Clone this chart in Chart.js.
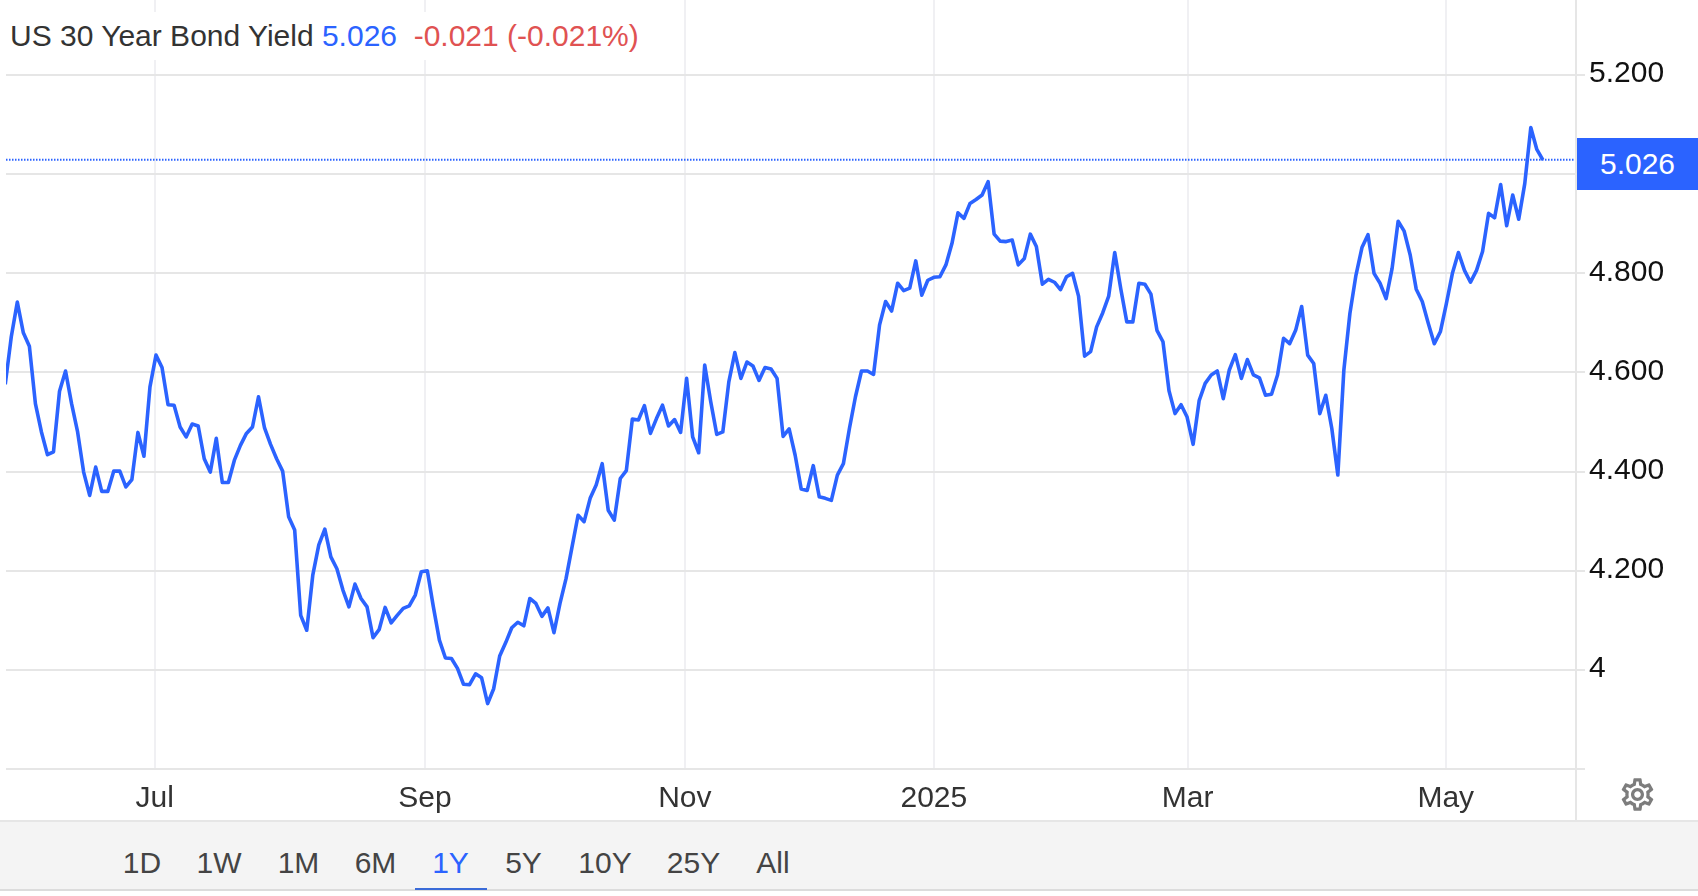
<!DOCTYPE html>
<html>
<head>
<meta charset="utf-8">
<title>US 30 Year Bond Yield</title>
<script src="https://cdn.jsdelivr.net/npm/chart.js@4"></script>
<style>
html,body{margin:0;padding:0;background:#fff;width:1698px;height:896px;overflow:hidden;font-family:"Liberation Sans",Arial,sans-serif}
#wrap{position:relative;width:1698px;height:896px}
canvas{position:absolute;left:0;top:0}
.abs{position:absolute}
#title{left:6px;top:12px;width:640px;height:48px;box-sizing:border-box;padding-left:4px;background:#fff;font-size:30px;line-height:48px;white-space:pre;color:#333}
#axisline{left:1575px;top:0;width:2px;height:820px;background:#e6e6e6}
#pricebox{left:1577px;top:138px;width:121px;height:52px;background:#2b63ff;color:#fff;font-size:30px;line-height:52px;text-align:center}
#bar{left:0;top:820px;width:1698px;height:71px;background:#f4f4f4;border-top:2px solid #e6e6e6;border-bottom:2px solid #dcdcdc;box-sizing:border-box}
.rng{position:absolute;top:820px;height:71px;line-height:85px;font-size:30px;color:#444;transform:translateX(-50%)}
.rng.on{color:#2b63ff}
#under{left:415px;top:888px;width:72px;height:2px;background:#3a6bd8}
#gear{left:1618px;top:775px;width:39px;height:39px}
</style>
</head>
<body>
<div id="wrap">
<canvas id="c" width="1698" height="896"></canvas>
<div class="abs" id="title"></div>
<div class="abs" id="axisline"></div>
<div class="abs" id="pricebox"></div>
<div class="abs" id="bar"></div>
<div class="abs" id="under"></div>
<svg class="abs" id="gear" viewBox="0 0 24 24"><path fill="#7d7d7d" d="M19.43 12.98c.04-.32.07-.64.07-.98 0-.34-.03-.66-.07-.98l2.11-1.65c.19-.15.24-.42.12-.64l-2-3.46c-.09-.16-.26-.25-.44-.25-.06 0-.12.01-.17.03l-2.49 1c-.52-.4-1.08-.73-1.69-.98l-.38-2.65C14.46 2.18 14.25 2 14 2h-4c-.25 0-.46.18-.49.42l-.38 2.65c-.61.25-1.17.59-1.69.98l-2.49-1c-.06-.02-.12-.03-.18-.03-.17 0-.34.09-.43.25l-2 3.46c-.13.22-.07.49.12.64l2.11 1.65c-.04.32-.07.65-.07.98 0 .33.03.66.07.98l-2.11 1.65c-.19.15-.24.42-.12.64l2 3.46c.09.16.26.25.44.25.06 0 .12-.01.17-.03l2.49-1c.52.4 1.08.73 1.69.98l.38 2.65c.03.24.24.42.49.42h4c.25 0 .46-.18.49-.42l.38-2.65c.61-.25 1.17-.59 1.69-.98l2.49 1c.06.02.12.03.18.03.17 0 .34-.09.43-.25l2-3.46c.12-.22.07-.49-.12-.64l-2.11-1.65zm-1.98-1.71c.04.31.05.52.05.73 0 .21-.02.43-.05.73l-.14 1.13.89.7 1.08.84-.7 1.21-1.27-.51-1.04-.42-.9.68c-.43.32-.84.56-1.25.73l-1.06.43-.16 1.13-.2 1.35h-1.4l-.19-1.35-.16-1.13-1.06-.43c-.43-.18-.83-.41-1.23-.71l-.91-.7-1.06.43-1.27.51-.7-1.21 1.08-.84.89-.7-.14-1.13c-.03-.31-.05-.54-.05-.74s.02-.43.05-.73l.14-1.13-.89-.7-1.08-.84.7-1.21 1.27.51 1.04.42.9-.68c.43-.32.84-.56 1.25-.73l1.06-.43.16-1.13.2-1.35h1.39l.19 1.35.16 1.13 1.06.43c.43.18.83.41 1.23.71l.91.7 1.06-.43 1.27-.51.7 1.21-1.07.85-.89.7.14 1.13zM12 8c-2.21 0-4 1.79-4 4s1.79 4 4 4 4-1.79 4-4-1.79-4-4-4zm0 6c-1.1 0-2-.9-2-2s.9-2 2-2 2 .9 2 2-.9 2-2 2z"/></svg>
</div>
<script>
const seriesName = "US 30 Year Bond Yield";
const lastText = "5.026";
const changeText = "-0.021 (-0.021%)";
const rangeLabels = ["1D","1W","1M","6M","1Y","5Y","10Y","25Y","All"];
const activeRange = "1Y";
const rangeCenters = [142,219,298.5,375.5,450.5,523.5,605,693.5,773];

const monthLabels = ["Jul","Sep","Nov","2025","Mar","May"];
const monthIndex = [24.8,69.6,112.7,154,196.1,238.9];
const yTickValues = [3.8,4,4.2,4.4,4.6,4.8,5,5.2];
const yTickLabels = ["","4","4.200","4.400","4.600","4.800","","5.200"];

const yields = [
4.576,4.672,4.742,4.680,4.653,4.537,4.480,4.434,4.440,4.562,
4.603,4.537,4.480,4.399,4.352,4.409,4.360,4.360,4.401,4.401,
4.369,4.384,4.479,4.431,4.571,4.635,4.610,4.535,4.534,4.490,
4.470,4.496,4.492,4.426,4.399,4.467,4.378,4.378,4.423,4.453,
4.477,4.490,4.551,4.488,4.455,4.426,4.401,4.309,4.282,4.110,
4.080,4.191,4.252,4.284,4.228,4.204,4.161,4.127,4.173,4.144,
4.127,4.065,4.081,4.126,4.095,4.110,4.124,4.129,4.151,4.198,
4.200,4.127,4.060,4.024,4.023,4.003,3.971,3.970,3.992,3.984,
3.932,3.962,4.028,4.055,4.085,4.096,4.089,4.144,4.134,4.108,
4.125,4.075,4.134,4.184,4.248,4.312,4.299,4.346,4.373,4.416,
4.322,4.302,4.386,4.402,4.506,4.504,4.533,4.477,4.507,4.534,
4.492,4.505,4.479,4.588,4.470,4.438,4.615,4.541,4.475,4.480,
4.581,4.640,4.588,4.621,4.613,4.584,4.610,4.607,4.588,4.471,
4.486,4.433,4.365,4.362,4.412,4.349,4.346,4.342,4.393,4.416,
4.487,4.551,4.603,4.603,4.596,4.696,4.743,4.724,4.780,4.765,
4.770,4.825,4.756,4.786,4.792,4.793,4.817,4.860,4.922,4.911,
4.941,4.949,4.958,4.985,4.879,4.865,4.864,4.867,4.817,4.830,
4.879,4.854,4.778,4.788,4.782,4.767,4.793,4.800,4.754,4.633,
4.642,4.692,4.720,4.754,4.842,4.769,4.702,4.702,4.780,4.778,
4.758,4.685,4.662,4.563,4.517,4.535,4.510,4.455,4.543,4.578,
4.595,4.603,4.547,4.605,4.636,4.588,4.626,4.595,4.589,4.554,
4.556,4.595,4.669,4.658,4.685,4.733,4.635,4.618,4.517,4.554,
4.487,4.393,4.605,4.719,4.796,4.852,4.878,4.800,4.780,4.749,
4.810,4.905,4.885,4.837,4.768,4.743,4.699,4.658,4.682,4.739,
4.800,4.842,4.806,4.782,4.806,4.844,4.921,4.912,4.979,4.896,
4.958,4.909,4.981,5.094,5.050,5.029
];
const lastLevel = 5.029;

const BLUE = "#2b63ff";

document.getElementById("title").innerHTML =
  seriesName + ' <span style="color:'+BLUE+'">' + lastText + '</span>  <span style="color:#e05252">' + changeText + '</span>';
document.getElementById("pricebox").textContent = lastText;
const wrap = document.getElementById("wrap");
rangeLabels.forEach((t,i)=>{
  const d = document.createElement("div");
  d.className = "rng" + (t===activeRange?" on":"");
  d.style.left = rangeCenters[i]+"px";
  d.textContent = t;
  wrap.appendChild(d);
});

const X_MIN = 0.124, X_MAX = 260;

new Chart(document.getElementById("c"), {
  type: "line",
  data: {
    datasets: [
      {
        label: seriesName,
        data: yields.map((y,i)=>({x:i,y})),
        borderColor: BLUE,
        borderWidth: 3.6,
        borderJoinStyle: "round",
        pointRadius: 0,
        tension: 0,
        clip: 0,
        order: 1
      },
      {
        label: "last",
        data: [{x:X_MIN,y:lastLevel},{x:X_MAX+0.5,y:lastLevel}],
        borderColor: BLUE,
        borderWidth: 2,
        borderDash: [1.5,1.5],
        pointRadius: 0,
        tension: 0,
        clip: {left:0,top:0,right:3,bottom:0},
        order: 2
      }
    ]
  },
  options: {
    responsive: false,
    animation: false,
    devicePixelRatio: 1,
    layout: { autoPadding: false, padding: { left: 6, top: 0, right: 0, bottom: 0 } },
    plugins: { legend: { display: false }, tooltip: { enabled: false }, title: { display: false } },
    scales: {
      x: {
        type: "linear",
        min: X_MIN,
        max: X_MAX,
        afterBuildTicks: s => { s.ticks = monthIndex.map(v=>({value:v})); },
        afterFit: s => { s.height = 127; s.paddingLeft = 0; s.paddingRight = 0; },
        border: { display: false },
        grid: { color: "#f0f0f3", lineWidth: 2, drawTicks: false },
        ticks: {
          autoSkip: false, maxRotation: 0, padding: 12,
          color: "#333", font: { family: "Liberation Sans", size: 30 },
          callback: v => monthLabels[monthIndex.indexOf(v)]
        }
      },
      y: {
        type: "linear",
        position: "right",
        min: 3.8,
        max: 5.3514,
        afterBuildTicks: s => { s.ticks = yTickValues.map(v=>({value:v})); },
        afterFit: s => { s.width = 125; s.paddingTop = 0; s.paddingBottom = 0; },
        border: { display: false },
        grid: { color: "#e6e6e6", lineWidth: 2, tickColor: "#e6e6e6", tickLength: 12 },
        ticks: {
          autoSkip: false, padding: 4,
          color: "#111", font: { family: "Liberation Sans", size: 30, lineHeight: "2px" },
          callback: v => [yTickLabels[yTickValues.indexOf(v)], ""]
        }
      }
    }
  }
});
</script>
</body>
</html>
